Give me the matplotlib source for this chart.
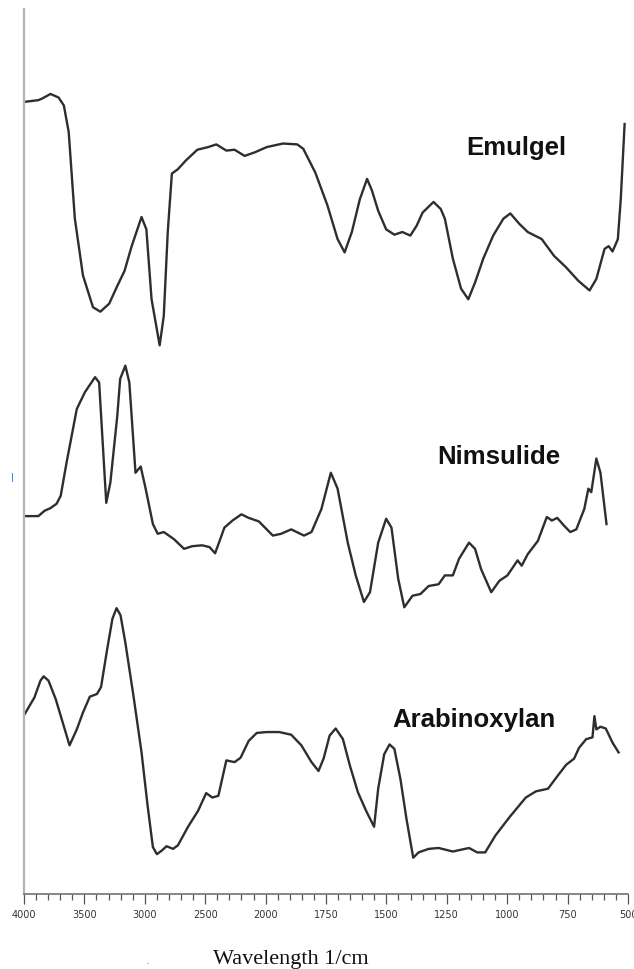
import numpy as np
import matplotlib
matplotlib.use("Agg")
import matplotlib.pyplot as plt
from matplotlib.ticker import FixedLocator

# FTIR spectra, wavenumber (1/cm) vs transmittance (arbitrary, stacked)
emul_wn = [4000, 3881, 3847, 3781, 3714, 3670, 3630, 3579, 3512, 3429,
           3368, 3295, 3228, 3168, 3111, 3027, 2987, 2944, 2877, 2843,
           2810, 2776, 2726, 2659, 2565, 2475, 2408, 2325, 2257, 2174,
           2090, 1995, 1928, 1869, 1844, 1794, 1744, 1702, 1673, 1643,
           1610, 1580, 1560, 1534, 1501, 1467, 1434, 1401, 1375, 1350,
           1305, 1275, 1258, 1225, 1191, 1161, 1133, 1099, 1058, 1016,
           987, 949, 915, 857, 806, 756, 706, 659, 631, 597,
           580, 564, 542, 530, 514]
emul_t = [89.5, 89.7, 89.9, 90.4, 90.0, 89.1, 86.1, 76.3, 69.9, 66.3,
          65.8, 66.7, 68.7, 70.4, 73.1, 76.5, 75.1, 67.2, 62.0, 65.3,
          74.8, 81.4, 81.9, 82.9, 84.1, 84.4, 84.7, 84.0, 84.1, 83.4,
          83.8, 84.4, 84.8, 84.7, 84.2, 81.5, 77.8, 74.0, 72.5, 74.8,
          78.5, 80.8, 79.5, 77.2, 75.1, 74.5, 74.8, 74.4, 75.5, 77.0,
          78.2, 77.4, 76.3, 71.8, 68.4, 67.2, 69.1, 71.8, 74.4, 76.3,
          76.9, 75.7, 74.8, 74.0, 72.1, 70.8, 69.3, 68.2, 69.5, 72.9,
          73.2, 72.6, 74.0, 78.5, 87.0]

nims_wn = [4000, 3881, 3830, 3781, 3730, 3696, 3647, 3563, 3496, 3412,
           3378, 3352, 3319, 3285, 3228, 3204, 3161, 3128, 3077, 3034,
           2993, 2933, 2893, 2843, 2759, 2675, 2608, 2525, 2464, 2418,
           2341, 2274, 2200, 2140, 2056, 1970, 1936, 1894, 1841, 1810,
           1769, 1730, 1702, 1660, 1627, 1593, 1568, 1534, 1501, 1479,
           1451, 1426, 1392, 1359, 1325, 1284, 1258, 1225, 1199, 1158,
           1133, 1108, 1066, 1032, 999, 957, 940, 915, 873, 836,
           815, 793, 764, 739, 714, 681, 664, 652, 631, 614, 589]
nims_t = [42.7, 42.7, 43.3, 43.6, 44.1, 45.0, 48.8, 54.8, 56.7, 58.4,
          57.8, 51.8, 44.2, 46.5, 54.0, 58.2, 59.7, 57.8, 47.6, 48.3,
          45.8, 41.8, 40.7, 40.9, 40.1, 39.0, 39.3, 39.4, 39.2, 38.5,
          41.4, 42.2, 42.9, 42.5, 42.1, 40.5, 40.7, 41.2, 40.5, 40.9,
          43.5, 47.6, 45.8, 39.7, 36.0, 33.0, 34.1, 39.7, 42.4, 41.4,
          35.6, 32.4, 33.7, 33.9, 34.8, 35.0, 36.0, 36.0, 37.9, 39.7,
          39.0, 36.7, 34.1, 35.4, 36.0, 37.7, 37.1, 38.4, 39.9, 42.6,
          42.2, 42.5, 41.6, 40.9, 41.2, 43.5, 45.8, 45.4, 49.2, 47.6, 41.8]

arab_wn = [4000, 3914, 3864, 3837, 3797, 3737, 3680, 3623, 3563, 3512,
           3455, 3396, 3362, 3311, 3268, 3234, 3201, 3161, 3094, 3027,
           2977, 2933, 2900, 2860, 2820, 2766, 2726, 2642, 2559, 2492,
           2441, 2391, 2325, 2257, 2207, 2140, 2073, 1995, 1944, 1894,
           1852, 1810, 1781, 1760, 1735, 1710, 1680, 1651, 1618, 1584,
           1551, 1534, 1509, 1487, 1467, 1442, 1417, 1389, 1367, 1325,
           1284, 1225, 1158, 1124, 1091, 1049, 990, 923, 881, 831,
           790, 756, 723, 703, 673, 647, 639, 631, 614, 592, 564, 539]
arab_t = [20.2, 22.2, 24.1, 24.6, 24.1, 22.0, 19.4, 16.8, 18.6, 20.5,
          22.3, 22.6, 23.4, 27.7, 31.1, 32.3, 31.5, 28.4, 22.4, 16.0,
          10.0, 5.3, 4.5, 4.9, 5.4, 5.1, 5.5, 7.6, 9.4, 11.4,
          10.9, 11.1, 15.1, 14.9, 15.4, 17.3, 18.2, 18.3, 18.3, 18.0,
          16.8, 14.9, 13.9, 15.3, 17.9, 18.7, 17.5, 14.5, 11.5, 9.4,
          7.6, 11.9, 15.8, 16.9, 16.4, 13.0, 8.5, 4.1, 4.7, 5.1,
          5.2, 4.8, 5.2, 4.7, 4.7, 6.6, 8.7, 10.9, 11.6, 11.9,
          13.4, 14.6, 15.3, 16.5, 17.5, 17.7, 20.1, 18.6, 18.9, 18.7, 17.1, 16.0]

labels = ["Emulgel", "Nimsulide", "Arabinoxylan"]
major_ticks = [4000, 3500, 3000, 2500, 2000, 1750, 1500, 1250, 1000, 750, 500]


# scale break at 2000: 500/div above, 250/div below (increasing in w)
def fwd(w):
    w = np.asarray(w, dtype=float)
    return np.where(w >= 2000, 6 + (w - 2000) / 500.0, (w - 500) / 250.0)


def inv(u):
    u = np.asarray(u, dtype=float)
    return np.where(u >= 6, 2000 + 500.0 * (u - 6), 500 + 250.0 * u)


fig = plt.figure(figsize=(6.34, 9.70), dpi=100)
ax = fig.add_axes([24 / 634, 75 / 970, 604 / 634, 885 / 970])

line_col = "#2e2e2e"
for wn, t in [(emul_wn, emul_t), (nims_wn, nims_t), (arab_wn, arab_t)]:
    ax.plot(wn, t, color=line_col, lw=1.7, solid_joinstyle="round")

ax.set_xscale("function", functions=(fwd, inv))
ax.set_xlim(4000, 500)
ax.set_ylim(0, 100)

minor = list(np.arange(4000, 2000, -100)) + list(np.arange(2000, 499, -50))
ax.xaxis.set_major_locator(FixedLocator(major_ticks))
ax.xaxis.set_minor_locator(FixedLocator(minor))
ax.set_xticklabels([str(v) for v in major_ticks])
ax.tick_params(axis="x", which="major", direction="out", length=7, width=0.9,
               color="#555555", labelsize=7, labelcolor="#333333", pad=4)
ax.tick_params(axis="x", which="minor", direction="out", length=4.5, width=0.9,
               color="#555555")
ax.set_yticks([])

for s in ["top", "right"]:
    ax.spines[s].set_visible(False)
ax.spines["left"].set_color("#b4b4b4")
ax.spines["left"].set_linewidth(1.6)
ax.spines["bottom"].set_color("#666666")
ax.spines["bottom"].set_linewidth(1.1)

# sample names
ax.text(0.8146, 0.844, labels[0], transform=ax.transAxes, ha="center", va="center",
        fontsize=18.5, fontweight="bold", family="Liberation Sans", color="#111111")
ax.text(0.7864, 0.4949, labels[1], transform=ax.transAxes, ha="center", va="center",
        fontsize=18.5, fontweight="bold", family="Liberation Sans", color="#111111")
ax.text(0.745, 0.1977, labels[2], transform=ax.transAxes, ha="center", va="center",
        fontsize=18.5, fontweight="bold", family="Liberation Sans", color="#111111")

fig.text(291 / 634, 1 - 960 / 970, "Wavelength 1/cm", ha="center", va="center",
         fontsize=16, family="Liberation Serif", color="#111111")
fig.text(148 / 634, 1 - 964 / 970, "\u00b7", ha="center", va="center",
         fontsize=8, color="#777777")
fig.text(12 / 634, 1 - 478 / 970, "|", ha="center", va="center",
         fontsize=6, color="#3050c0")

fig.savefig("out.png", dpi=100, facecolor="white")
